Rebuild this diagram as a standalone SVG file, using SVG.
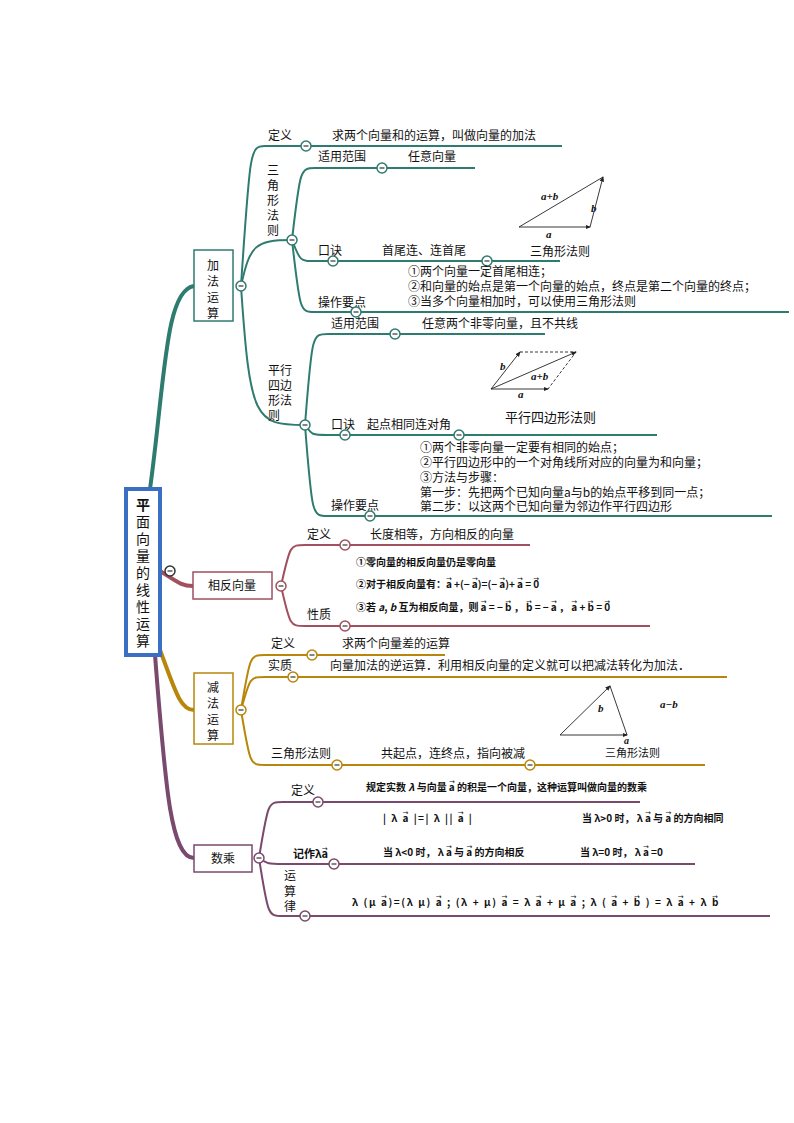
<svg xmlns="http://www.w3.org/2000/svg" width="794" height="1123" viewBox="0 0 794 1123">
<style>
text{font-family:"Noto Sans CJK SC","Liberation Serif",serif;font-size:12px;fill:#111}
.s{font-size:10px;font-weight:bold}
.v{font-size:7px;font-family:"DejaVu Sans",sans-serif;font-weight:normal;letter-spacing:0}
.i{font-family:"Liberation Serif",serif;font-style:italic;font-weight:bold;font-size:11px}
.l{fill:none;stroke-width:2}
.t{stroke:#2e7b70}.m{stroke:#a0505e}.g{stroke:#b8860b}.p{stroke:#7a4a6e}
.c{fill:#fff;stroke-width:1.5}
.box{fill:#fff;stroke-width:1.5}
.f{fill:none;stroke:#222;stroke-width:0.9}
.r{font-size:14px;text-anchor:middle}
</style>
<defs>
<marker id="ar" markerWidth="6" markerHeight="6" refX="5" refY="3" orient="auto"><path d="M0,0.5 L6,3 L0,5.5z" fill="#222"/></marker>
<g id="cm"><circle r="5" class="c"/><line x1="-2.5" x2="2.5" stroke="#333" stroke-width="1.2"/></g>
</defs>
<g id="connectors">
<path class="l t" style="stroke-width:4" d="M150,489 C165,380 165,290 194,286"/>
<path class="l m" style="stroke-width:4" d="M160,571 C175,580 180,586 193,586"/>
<path class="l g" style="stroke-width:4" d="M160,650 C175,690 180,710 194,710"/>
<path class="l p" style="stroke-width:4" d="M155,655 C165,780 170,858 194,858"/>
<path class="l t" d="M241,286 C250,150 250,146 265,146 L562,146"/>
<path class="l t" d="M241,286 C250,245 255,240 292,240"/>
<path class="l t" d="M241,286 C250,420 255,425 305,425"/>
<path class="l t" d="M292,240 C300,170 300,168 315,168 L475,168"/>
<path class="l t" d="M292,240 C300,261 300,261 315,261 L560,261"/>
<path class="l t" d="M292,240 C300,312 300,312 315,312 L789,312"/>
<path class="l t" d="M305,425 C312,334 312,334 328,334 L545,334"/>
<path class="l t" d="M305,425 C312,435 312,435 328,435 L657,435"/>
<path class="l t" d="M305,425 C312,516 312,516 328,516 L772,516"/>
<path class="l m" d="M281,586 C290,545 290,545 305,545 L530,545"/>
<path class="l m" d="M281,586 C290,626 290,626 305,626 L650,626"/>
<path class="l g" d="M241,710 C250,655 250,655 265,655 L445,655"/>
<path class="l g" d="M241,710 C250,677 250,677 265,677 L727,677"/>
<path class="l g" d="M241,710 C250,765 250,765 265,765 L705,765"/>
<path class="l p" d="M259,858 C268,802 268,802 283,802 L640,802"/>
<path class="l p" d="M259,858 C268,864 268,864 283,864 L695,864"/>
<path class="l p" d="M259,858 C268,916 268,916 283,916 L770,916"/>
</g>
<g id="root"><rect x="126" y="489" width="34" height="166" fill="#fff" stroke="#3a6fc4" stroke-width="4"/>
<text class="r" x="143" y="510" font-weight="bold">平</text><text class="r" x="143" y="527">面</text><text class="r" x="143" y="544">向</text><text class="r" x="143" y="561">量</text><text class="r" x="143" y="578">的</text><text class="r" x="143" y="595">线</text><text class="r" x="143" y="612">性</text><text class="r" x="143" y="629">运</text><text class="r" x="143" y="646">算</text>
<use href="#cm" x="170" y="571" stroke="#333"/></g>
<g id="add">
<rect x="194" y="250" width="39" height="71" class="box" stroke="#2e7b70"/>
<text x="213" y="270" text-anchor="middle">加</text><text x="213" y="286" text-anchor="middle">法</text><text x="213" y="302" text-anchor="middle">运</text><text x="213" y="318" text-anchor="middle">算</text>
<use href="#cm" x="241" y="286" stroke="#2e7b70"/>
<text x="268" y="140">定义</text><text x="332" y="140">求两个向量和的运算，叫做向量的加法</text><use href="#cm" x="306" y="146" stroke="#2e7b70"/>
<text x="273" y="175" text-anchor="middle">三</text><text x="273" y="190" text-anchor="middle">角</text><text x="273" y="205" text-anchor="middle">形</text><text x="273" y="220" text-anchor="middle">法</text><text x="273" y="235" text-anchor="middle">则</text>
<use href="#cm" x="292" y="240" stroke="#2e7b70"/>
<text x="318" y="161">适用范围</text><text x="408" y="161">任意向量</text><use href="#cm" x="382" y="168" stroke="#2e7b70"/>
<path class="f" d="M519,227 L590,227" marker-end="url(#ar)"/><path class="f" d="M590,227 L603,177" marker-end="url(#ar)"/><path class="f" d="M519,227 L603,177"/>
<text class="i" x="541" y="200">a+b</text><text class="i" x="591" y="212">b</text><text class="i" x="546" y="238">a</text>
<text x="318" y="255">口诀</text><text x="382" y="255">首尾连、连首尾</text><text x="530" y="256">三角形法则</text>
<use href="#cm" x="333" y="261" stroke="#2e7b70"/><use href="#cm" x="487" y="261" stroke="#2e7b70"/>
<text x="408" y="276">①两个向量一定首尾相连；</text><text x="408" y="291">②和向量的始点是第一个向量的始点，终点是第二个向量的终点；</text><text x="408" y="306">③当多个向量相加时，可以使用三角形法则</text>
<text x="318" y="307">操作要点</text><use href="#cm" x="356" y="312" stroke="#2e7b70"/>
<text x="268" y="375">平行</text><text x="268" y="390">四边</text><text x="268" y="405">形法</text><text x="268" y="420">则</text>
<use href="#cm" x="305" y="425" stroke="#2e7b70"/>
<text x="331" y="328">适用范围</text><text x="422" y="328">任意两个非零向量，且不共线</text><use href="#cm" x="395" y="334" stroke="#2e7b70"/>
<path class="f" d="M491,389 L548,389" marker-end="url(#ar)"/><path class="f" d="M491,389 L520,352" marker-end="url(#ar)"/><path class="f" d="M491,389 L576,352" marker-end="url(#ar)"/>
<path class="f" stroke-dasharray="3,2" d="M520,352 L576,352 L548,389"/>
<text class="i" x="500" y="370">b</text><text class="i" x="531" y="380">a+b</text><text class="i" x="518" y="398">a</text>
<text x="505" y="422" style="font-size:13px">平行四边形法则</text>
<text x="331" y="429">口诀</text><text x="367" y="429">起点相同连对角</text><use href="#cm" x="345" y="435" stroke="#2e7b70"/><use href="#cm" x="459" y="435" stroke="#2e7b70"/>
<text x="420" y="452">①两个非零向量一定要有相同的始点；</text><text x="420" y="467">②平行四边形中的一个对角线所对应的向量为和向量；</text><text x="420" y="482">③方法与步骤：</text><text x="420" y="497">第一步：先把两个已知向量a与b的始点平移到同一点；</text><text x="420" y="511">第二步：以这两个已知向量为邻边作平行四边形</text>
<text x="331" y="510">操作要点</text><use href="#cm" x="370" y="516" stroke="#2e7b70"/>
</g>
<g id="opp">
<rect x="193" y="572" width="79" height="27" class="box" stroke="#a0505e"/><text x="232" y="590" text-anchor="middle">相反向量</text>
<use href="#cm" x="281" y="586" stroke="#a0505e"/>
<text x="307" y="539">定义</text><text x="370" y="539">长度相等，方向相反的向量</text><use href="#cm" x="345" y="545" stroke="#a0505e"/>
<text class="s" x="356" y="566">①零向量的相反向量仍是零向量</text>
<text class="s" x="356" y="588">②对于相反向量有：<tspan class="v" dy="-7">→</tspan><tspan dx="-6" dy="7">a</tspan> +(− <tspan class="v" dy="-7">→</tspan><tspan dx="-6" dy="7">a</tspan>)=(− <tspan class="v" dy="-7">→</tspan><tspan dx="-6" dy="7">a</tspan>)+ <tspan class="v" dy="-7">→</tspan><tspan dx="-6" dy="7">a</tspan> = <tspan class="v" dy="-7">→</tspan><tspan dx="-6" dy="7">0</tspan></text>
<text class="s" x="356" y="611">③若 <tspan font-style="italic">a</tspan>, <tspan font-style="italic">b</tspan> 互为相反向量，则 <tspan class="v" dy="-7">→</tspan><tspan dx="-6" dy="7">a</tspan> = − <tspan class="v" dy="-7">→</tspan><tspan dx="-6" dy="7">b</tspan> ，  <tspan class="v" dy="-7">→</tspan><tspan dx="-6" dy="7">b</tspan> = − <tspan class="v" dy="-7">→</tspan><tspan dx="-6" dy="7">a</tspan> ，  <tspan class="v" dy="-7">→</tspan><tspan dx="-6" dy="7">a</tspan> + <tspan class="v" dy="-7">→</tspan><tspan dx="-6" dy="7">b</tspan> = <tspan class="v" dy="-7">→</tspan><tspan dx="-6" dy="7">0</tspan></text>
<text x="307" y="619">性质</text><use href="#cm" x="345" y="626" stroke="#a0505e"/>
</g>
<g id="sub">
<rect x="194" y="673" width="39" height="71" class="box" stroke="#b8860b"/>
<text x="213" y="692" text-anchor="middle">减</text><text x="213" y="708" text-anchor="middle">法</text><text x="213" y="724" text-anchor="middle">运</text><text x="213" y="740" text-anchor="middle">算</text>
<use href="#cm" x="241" y="710" stroke="#b8860b"/>
<text x="271" y="648">定义</text><text x="342" y="648">求两个向量差的运算</text><use href="#cm" x="312" y="655" stroke="#b8860b"/>
<text x="268" y="670">实质</text><text x="330" y="670">向量加法的逆运算．利用相反向量的定义就可以把减法转化为加法．</text><use href="#cm" x="293" y="677" stroke="#b8860b"/>
<path class="f" d="M560,735 L627,735" marker-end="url(#ar)"/><path class="f" d="M560,735 L610,686" marker-end="url(#ar)"/><path class="f" d="M627,735 L610,686"/>
<text class="i" x="598" y="712">b</text><text class="i" x="660" y="708">a−b</text><text class="i" x="624" y="744" style="font-size:10px">a</text>
<text x="605" y="757" style="font-size:11px">三角形法则</text>
<text x="271" y="758">三角形法则</text><text x="381" y="758">共起点，连终点，指向被减</text>
<use href="#cm" x="337" y="765" stroke="#b8860b"/><use href="#cm" x="530" y="765" stroke="#b8860b"/>
</g>
<g id="scal">
<rect x="194" y="845" width="58" height="27" class="box" stroke="#7a4a6e"/><text x="223" y="863" text-anchor="middle">数乘</text>
<use href="#cm" x="259" y="858" stroke="#7a4a6e"/>
<text x="291" y="795">定义</text><text class="s" x="366" y="791">规定实数 <tspan font-style="italic">λ</tspan> 与向量 <tspan class="v" dy="-7">→</tspan><tspan dx="-6" dy="7">a</tspan> 的积是一个向量，这种运算叫做向量的数乘</text><use href="#cm" x="318" y="802" stroke="#7a4a6e"/>
<text class="s" x="383" y="822" style="letter-spacing:1.5px">| λ  <tspan class="v" dy="-7">→</tspan><tspan dx="-6" dy="7">a</tspan> |=| λ || <tspan class="v" dy="-7">→</tspan><tspan dx="-6" dy="7">a</tspan> |</text>
<text class="s" x="582" y="822">当 λ&gt;0 时， λ <tspan class="v" dy="-7">→</tspan><tspan dx="-6" dy="7">a</tspan> 与 <tspan class="v" dy="-7">→</tspan><tspan dx="-6" dy="7">a</tspan> 的方向相同</text>
<text class="s" x="293" y="858" style="font-size:11px">记作λ<tspan class="v" dy="-7">→</tspan><tspan dx="-6" dy="7">a</tspan></text>
<text class="s" x="383" y="856">当 λ&lt;0 时， λ <tspan class="v" dy="-7">→</tspan><tspan dx="-6" dy="7">a</tspan> 与 <tspan class="v" dy="-7">→</tspan><tspan dx="-6" dy="7">a</tspan> 的方向相反</text>
<text class="s" x="580" y="856">当 λ=0 时， λ <tspan class="v" dy="-7">→</tspan><tspan dx="-6" dy="7">a</tspan> =0</text>
<use href="#cm" x="334" y="864" stroke="#7a4a6e"/>
<text x="290" y="880" text-anchor="middle">运</text><text x="290" y="896" text-anchor="middle">算</text><text x="290" y="911" text-anchor="middle">律</text>
<text class="s" x="352" y="906" style="letter-spacing:1.6px">λ (μ <tspan class="v" dy="-7">→</tspan><tspan dx="-6" dy="7">a</tspan>)=(λ μ) <tspan class="v" dy="-7">→</tspan><tspan dx="-6" dy="7">a</tspan>  ;  (λ + μ) <tspan class="v" dy="-7">→</tspan><tspan dx="-6" dy="7">a</tspan> = λ <tspan class="v" dy="-7">→</tspan><tspan dx="-6" dy="7">a</tspan> + μ <tspan class="v" dy="-7">→</tspan><tspan dx="-6" dy="7">a</tspan>  ;  λ ( <tspan class="v" dy="-7">→</tspan><tspan dx="-6" dy="7">a</tspan> + <tspan class="v" dy="-7">→</tspan><tspan dx="-6" dy="7">b</tspan> ) = λ <tspan class="v" dy="-7">→</tspan><tspan dx="-6" dy="7">a</tspan> + λ <tspan class="v" dy="-7">→</tspan><tspan dx="-6" dy="7">b</tspan></text>
<use href="#cm" x="305" y="916" stroke="#7a4a6e"/>
</g>
</svg>
